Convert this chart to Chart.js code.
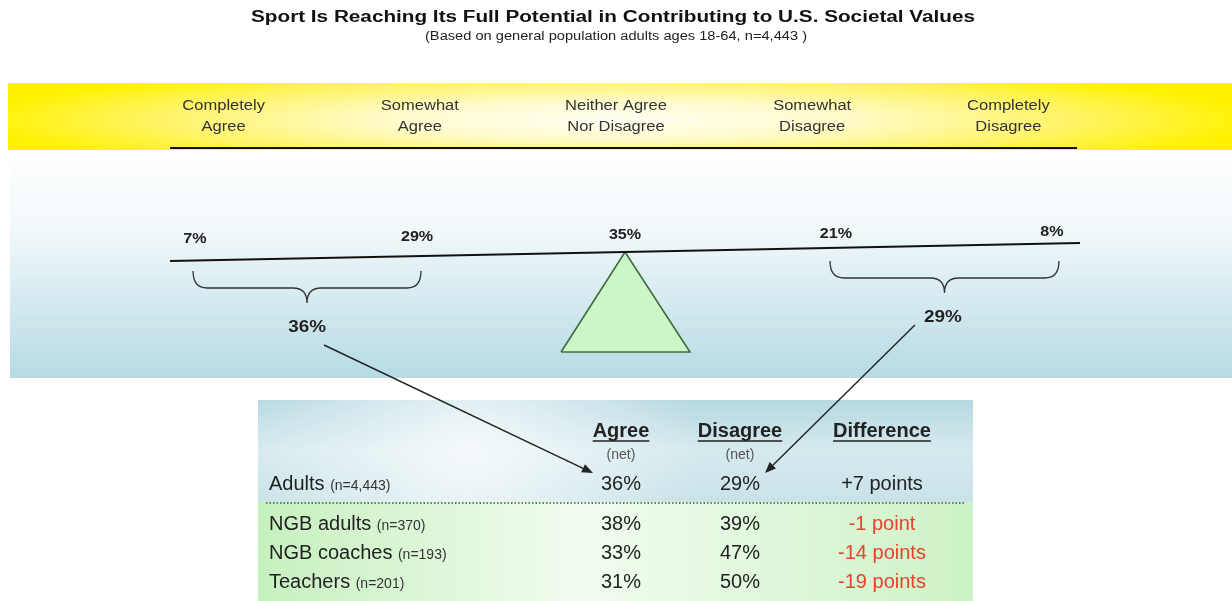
<!DOCTYPE html>
<html>
<head>
<meta charset="utf-8">
<script src="https://cdn.jsdelivr.net/npm/chart.js@4.4.1/dist/chart.umd.min.js"></script>
<style>
html, body { margin: 0; padding: 0; background: #fff; }
#wrap { position: relative; width: 1232px; height: 601px; }
</style>
</head>
<body>
<div id="wrap"><canvas id="seesaw"></canvas></div>
<script>
// Data

const categories = [['Completely', 'Agree'], ['Somewhat', 'Agree'], ['Neither Agree', 'Nor Disagree'], ['Somewhat', 'Disagree'], ['Completely', 'Disagree']];
const shareValues = [7, 29, 35, 21, 8];
const netLabels = ['Agree', 'Disagree'];
const netValues = [36, 29];
const groupNames = ['Adults', 'NGB adults', 'NGB coaches', 'Teachers'];
const groupSizes = ['n=4,443', 'n=370', 'n=193', 'n=201'];
const agreeNet = [36, 38, 33, 31];
const disagreeNet = [29, 39, 47, 50];

// layout (x in category units, y in page rows)
const sharePos = [-0.146, 0.986, 2.046, 3.121, 4.222];
const beamEnds = [-0.273, 4.365];
const beamY = [261, 243];
const pivot = 2.046;
const FONT = '"Liberation Sans", Arial, sans-serif';

function beamAt(x) {
    return beamY[0] + (x - beamEnds[0]) * (beamY[1] - beamY[0]) / (beamEnds[1] - beamEnds[0]);
}
function labelAt(x) {
    return 239 - (x - sharePos[0]) * 7 / (sharePos[4] - sharePos[0]);
}

function txt(ctx, s, x, y, font, color, align, sx, base) {
    ctx.save();
    ctx.font = font;
    ctx.fillStyle = color;
    ctx.textAlign = align || 'center';
    ctx.textBaseline = base || 'middle';
    ctx.translate(x, y);
    ctx.scale(sx || 1, 1);
    ctx.fillText(s, 0, 0);
    ctx.restore();
}
function fitText(ctx, s, x, y, font, color, width) {
    ctx.save();
    ctx.font = font;
    var sx = width / ctx.measureText(s).width;
    ctx.restore();
    txt(ctx, s, x, y, font, color, 'center', sx);
}

function arrow(ctx, x1, y1, x2, y2) {
    var a = Math.atan2(y2 - y1, x2 - x1), L = 11, W = 4.5;
    ctx.save();
    ctx.strokeStyle = '#222'; ctx.fillStyle = '#222'; ctx.lineWidth = 1.4;
    ctx.beginPath();
    ctx.moveTo(x1, y1);
    ctx.lineTo(x2 - L * Math.cos(a), y2 - L * Math.sin(a));
    ctx.stroke();
    ctx.beginPath();
    ctx.moveTo(x2, y2);
    ctx.lineTo(x2 - L * Math.cos(a) + W * Math.sin(a), y2 - L * Math.sin(a) - W * Math.cos(a));
    ctx.lineTo(x2 - L * Math.cos(a) - W * Math.sin(a), y2 - L * Math.sin(a) + W * Math.cos(a));
    ctx.closePath();
    ctx.fill();
    ctx.restore();
}

function brace(ctx, x1, x2, yTop, yMid, yTip) {
    var xm = (x1 + x2) / 2, r = 14;
    ctx.save();
    ctx.strokeStyle = '#333'; ctx.lineWidth = 1.3;
    ctx.beginPath();
    ctx.moveTo(x1, yTop);
    ctx.quadraticCurveTo(x1, yMid, x1 + r, yMid);
    ctx.lineTo(xm - r, yMid);
    ctx.quadraticCurveTo(xm, yMid, xm, yTip);
    ctx.quadraticCurveTo(xm, yMid, xm + r, yMid);
    ctx.lineTo(x2 - r, yMid);
    ctx.quadraticCurveTo(x2, yMid, x2, yTop);
    ctx.stroke();
    ctx.restore();
}

const backdrop = {
    id: 'backdrop',
    beforeDraw(chart) {
        var ctx = chart.ctx, g;
        ctx.save();
        ctx.fillStyle = '#fff';
        ctx.fillRect(0, 0, chart.width, chart.height);

        // yellow band
        ctx.save();
        ctx.beginPath(); ctx.rect(8, 83, 1224, 67); ctx.clip();
        ctx.translate(616, 120);
        ctx.scale(1, 0.085);
        g = ctx.createRadialGradient(0, 0, 0, 0, 0, 640);
        g.addColorStop(0, '#fffef2');
        g.addColorStop(0.35, '#fffbcc');
        g.addColorStop(0.7, '#fff46a');
        g.addColorStop(1, '#fff200');
        ctx.fillStyle = g;
        ctx.fillRect(-640, -1000, 1280, 2000);
        ctx.restore();

        // blue panel
        g = ctx.createLinearGradient(0, 150, 0, 378);
        g.addColorStop(0, '#ffffff');
        g.addColorStop(0.35, '#f1f8fa');
        g.addColorStop(1, '#b6dbe4');
        ctx.fillStyle = g;
        ctx.fillRect(10, 150, 1222, 228);

        // table panel, top part
        g = ctx.createLinearGradient(0, 400, 0, 502);
        g.addColorStop(0, '#b6d8e1');
        g.addColorStop(0.5, '#d6eaee');
        g.addColorStop(1, '#c8e2e8');
        ctx.fillStyle = g;
        ctx.fillRect(258, 400, 715, 102);
        g = ctx.createRadialGradient(470, 450, 0, 470, 450, 230);
        g.addColorStop(0, 'rgba(255,255,255,0.75)');
        g.addColorStop(1, 'rgba(255,255,255,0)');
        ctx.fillStyle = g;
        ctx.fillRect(258, 400, 715, 102);

        // table panel, bottom part
        g = ctx.createLinearGradient(258, 0, 973, 0);
        g.addColorStop(0, '#c6f0be');
        g.addColorStop(0.45, '#f2fcf0');
        g.addColorStop(1, '#cdf2c6');
        ctx.fillStyle = g;
        ctx.fillRect(258, 502, 715, 99);
        ctx.restore();
    }
};

const overlay = {
    id: 'overlay',
    afterDatasetsDraw(chart) {
        var ctx = chart.ctx, xs = chart.scales.x, ys = chart.scales.y;
        var px = function (v) { return xs.getPixelForValue(v); };
        var py = function (v) { return ys.getPixelForValue(v); };

        // titles
        fitText(ctx, 'Sport Is Reaching Its Full Potential in Contributing to U.S. Societal Values', 613, 18, 'bold 16px ' + FONT, '#111', 724);
        fitText(ctx, '(Based on general population adults ages 18-64, n=4,443 )', 616, 37, '12px ' + FONT, '#222', 382);

        // response categories
        categories.forEach(function (c, i) {
            txt(ctx, c[0], px(i), py(106), '14px ' + FONT, '#333', 'center', 1.18);
            txt(ctx, c[1], px(i), py(127), '14px ' + FONT, '#333', 'center', 1.18);
        });
        ctx.save();
        ctx.strokeStyle = '#111'; ctx.lineWidth = 2;
        ctx.beginPath(); ctx.moveTo(px(beamEnds[0]), py(148)); ctx.lineTo(px(4.35), py(148)); ctx.stroke();
        ctx.restore();

        // share labels on the beam
        var meta = chart.getDatasetMeta(2);
        meta.data.forEach(function (pt, i) {
            txt(ctx, shareValues[i] + '%', pt.x, pt.y, 'bold 14px ' + FONT, '#222', 'center', 1.15);
        });

        // braces and net values
        brace(ctx, px(sharePos[0] - 0.01), px(sharePos[1] + 0.02), py(271), py(288), py(303));
        brace(ctx, px(sharePos[3] - 0.03), px(sharePos[4] + 0.036), py(261), py(278), py(293));
        var netX = [(sharePos[0] + sharePos[1]) / 2 + 0.005, (sharePos[3] + sharePos[4]) / 2 - 0.005];
        var netY = [328, 318];
        netValues.forEach(function (v, i) {
            txt(ctx, v + '%', px(netX[i]), py(netY[i]), 'bold 16px ' + FONT, '#222', 'center', 1.18);
        });

        // table
        var colX = [621, 740, 882];
        var heads = netLabels.concat(['Difference']);
        ctx.save();
        heads.forEach(function (h, i) {
            ctx.font = 'bold 20px ' + FONT;
            var w = ctx.measureText(h).width;
            txt(ctx, h, colX[i], 431, 'bold 20px ' + FONT, '#222', 'center');
            ctx.strokeStyle = '#222'; ctx.lineWidth = 1.6;
            ctx.beginPath(); ctx.moveTo(colX[i] - w / 2, 441); ctx.lineTo(colX[i] + w / 2, 441); ctx.stroke();
            if (i < 2) txt(ctx, '(net)', colX[i], 455, '14px ' + FONT, '#555', 'center');
        });
        ctx.restore();

        var rowY = [490, 530, 559, 588];
        groupNames.forEach(function (g, i) {
            var y = rowY[i];
            ctx.save();
            ctx.font = '20px ' + FONT;
            var w = ctx.measureText(g + ' ').width;
            ctx.restore();
            txt(ctx, g, 269, y, '20px ' + FONT, '#222', 'left', 1, 'alphabetic');
            txt(ctx, '(' + groupSizes[i] + ')', 269 + w, y, '14px ' + FONT, '#333', 'left', 1, 'alphabetic');
            txt(ctx, agreeNet[i] + '%', colX[0], y, '20px ' + FONT, '#222', 'center', 1, 'alphabetic');
            txt(ctx, disagreeNet[i] + '%', colX[1], y, '20px ' + FONT, '#222', 'center', 1, 'alphabetic');
            var d = agreeNet[i] - disagreeNet[i];
            var s = (d > 0 ? '+' : '') + d + (Math.abs(d) === 1 ? ' point' : ' points');
            txt(ctx, s, colX[2], y, '20px ' + FONT, d < 0 ? '#e8412c' : '#222', 'center', 1, 'alphabetic');
        });

        ctx.save();
        ctx.strokeStyle = '#2f5d2f'; ctx.lineWidth = 1.5; ctx.setLineDash([1.5, 2]);
        ctx.beginPath(); ctx.moveTo(266, 503); ctx.lineTo(966, 503); ctx.stroke();
        ctx.restore();

        // arrows from the net values into the table
        arrow(ctx, px(netX[0]) + 17, py(netY[0]) + 17, colX[0] - 28, 473);
        arrow(ctx, px(netX[1]) - 28, py(netY[1]) + 7, colX[1] + 25, 473);
    }
};

const beamData = beamEnds.map(function (x, i) { return { x: x, y: beamY[i] }; });
const fulcrumData = [{ x: 1.72, y: 352 }, { x: pivot, y: beamAt(pivot) }, { x: 2.377, y: 352 }, { x: 1.72, y: 352 }];
const shareData = sharePos.map(function (x) { return { x: x, y: labelAt(x) }; });

const config = {
    type: 'scatter',
    data: {
        datasets: [
            { label: 'beam', data: beamData, showLine: true, borderColor: '#111', borderWidth: 2.2, pointRadius: 0 },
            { label: 'fulcrum', data: fulcrumData, showLine: true, fill: 'shape', backgroundColor: '#ccf5c8', borderColor: '#3e6e3e', borderWidth: 1.6, pointRadius: 0, tension: 0 },
            { label: 'shares', data: shareData, pointRadius: 0 }
        ]
    },
    options: {
        responsive: true,
        maintainAspectRatio: false,
        animation: false,
        layout: { padding: 0 },
        plugins: { legend: { display: false }, tooltip: { enabled: false } },
        scales: {
            x: { type: 'linear', display: false, min: -1.14, max: 5.14 },
            y: { type: 'linear', display: false, min: 0, max: 601, reverse: true }
        }
    },
    plugins: [backdrop, overlay]
};

new Chart(document.getElementById('seesaw'), config);
</script>
</body>
</html>
